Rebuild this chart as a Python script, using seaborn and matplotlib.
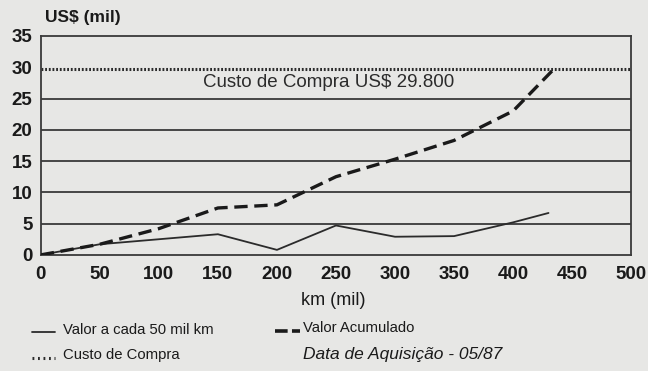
import matplotlib
matplotlib.use("Agg")
import matplotlib.pyplot as plt
from matplotlib.lines import Line2D
import seaborn as sns
import pandas as pd

# valores (US$ mil x km mil)
km_periodo = [0, 50, 100, 150, 200, 250, 300, 350, 400, 430]
valor_periodo = [0, 1.7, 2.5, 3.3, 0.8, 4.7, 2.9, 3.0, 5.2, 6.7]
km_acum = [0, 50, 100, 150, 200, 250, 300, 350, 400, 435]
valor_acum = [0, 1.7, 4.2, 7.5, 8.0, 12.5, 15.3, 18.3, 23.0, 29.8]
custo_compra = 29.8
x_ticks = [0, 50, 100, 150, 200, 250, 300, 350, 400, 450, 500]
y_ticks = [0, 5, 10, 15, 20, 25, 30, 35]

df_periodo = pd.DataFrame({"km": km_periodo, "valor": valor_periodo})
df_acum = pd.DataFrame({"km": km_acum, "valor": valor_acum})

sns.set_style("white")
plt.rcParams["font.family"] = ["Liberation Sans", "DejaVu Sans"]

bg = "#e7e7e5"
ink = "#2b2b2b"

fig = plt.figure(figsize=(6.48, 3.71), dpi=100, facecolor=bg)
ax = fig.add_axes([0.063, 0.313, 0.911, 0.590], facecolor=bg)

for y in y_ticks[1:-1]:
    if y != 30:
        ax.axhline(y, color="#3a3a3a", lw=1.3, zorder=1)

ax.axhline(custo_compra, color=ink, lw=2.2, ls=(0, (0.6, 0.6)), zorder=2)

sns.lineplot(data=df_periodo, x="km", y="valor", ax=ax, color=ink, lw=1.3, zorder=3)
sns.lineplot(data=df_acum, x="km", y="valor", ax=ax, color="#1a1a1a", lw=2.4,
             zorder=4, dashes=False, linestyle=(0, (4, 2)))

ax.text(244, 27.6, "Custo de Compra US$ 29.800", fontsize=13.5, color=ink,
        ha="center", va="center", zorder=5,
        bbox=dict(facecolor=bg, edgecolor="none", pad=0))

ax.set_xlim(0, 500)
ax.set_ylim(0, 35)
ax.set_xticks(x_ticks)
ax.set_yticks(y_ticks)
ax.tick_params(axis="x", direction="in", length=6, width=1.2, color="#555555",
               labelsize=13.5, pad=8)
ax.tick_params(axis="y", length=0, labelsize=13.5, pad=6)
for lab in ax.get_xticklabels() + ax.get_yticklabels():
    lab.set_fontweight("bold")
    lab.set_color("#1a1a1a")
for s in ax.spines.values():
    s.set_color("#3a3a3a")
    s.set_linewidth(1.3)

ax.set_xlabel("")
ax.set_ylabel("")
fig.text(0.514, 0.19, "km (mil)", ha="center", va="center", fontsize=13, color="#1a1a1a")
fig.text(0.069, 0.952, "US$ (mil)", ha="left", va="center", fontsize=12.5,
         fontweight="bold", color="#1a1a1a")

# legenda
fig.add_artist(Line2D([0.05, 0.085], [0.105, 0.105], color=ink, lw=1.3))
fig.text(0.097, 0.11, "Valor a cada 50 mil km", fontsize=10.7, va="center", color="#1a1a1a")
fig.add_artist(Line2D([0.425, 0.463], [0.107, 0.107], color="#1a1a1a", lw=2.6,
                      ls=(0, (3.5, 1.2))))
fig.text(0.468, 0.115, "Valor Acumulado", fontsize=10.7, va="center", color="#1a1a1a")
fig.add_artist(Line2D([0.05, 0.085], [0.035, 0.035], color=ink, lw=2.2,
                      ls=(0, (0.6, 1.2))))
fig.text(0.097, 0.042, "Custo de Compra", fontsize=10.7, va="center", color="#1a1a1a")
fig.text(0.468, 0.045, "Data de Aquisição - 05/87", fontsize=12.5, va="center",
         style="italic", color="#1a1a1a")

fig.savefig("out.png", dpi=100, facecolor=bg)
